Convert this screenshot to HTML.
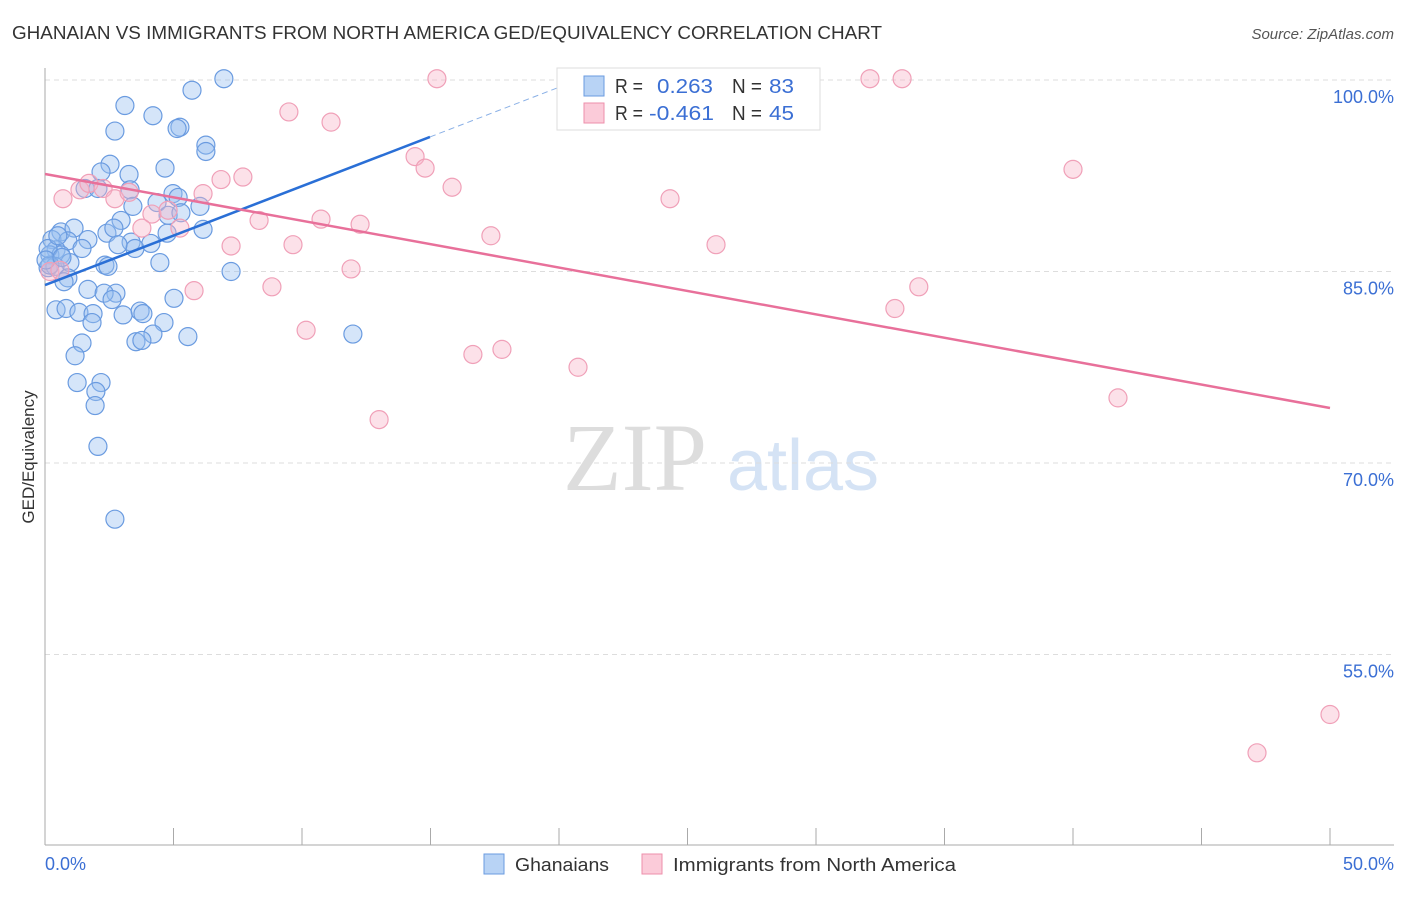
<!DOCTYPE html>
<html><head><meta charset="utf-8"><style>
body{margin:0;background:#fff;font-family:"Liberation Sans",sans-serif}
</style></head><body>
<svg width="1406" height="892" xmlns="http://www.w3.org/2000/svg" font-family="Liberation Sans, sans-serif">
<text x="12" y="39" font-size="18" fill="#333" textLength="870" lengthAdjust="spacingAndGlyphs">GHANAIAN VS IMMIGRANTS FROM NORTH AMERICA GED/EQUIVALENCY CORRELATION CHART</text>
<text x="1394" y="39" font-size="15" fill="#555" font-style="italic" text-anchor="end">Source: ZipAtlas.com</text>
<g><text x="635" y="490" font-size="96" fill="#ddd" font-family="Liberation Serif, serif" text-anchor="middle">ZIP</text><text x="803" y="490" font-size="72" fill="#d5e3f5" text-anchor="middle">atlas</text></g>
<g id="grid"></g><g id="axes"></g><g id="marks"></g>
<text transform="translate(34,457) rotate(-90)" font-size="17" fill="#333" text-anchor="middle">GED/Equivalency</text>
<text x="45" y="870" font-size="18" fill="#3b6fd4">0.0%</text>
<text x="1394" y="870" font-size="18" fill="#3b6fd4" text-anchor="end">50.0%</text>
<g>
<rect x="557" y="68" width="263" height="62" fill="#fff" stroke="#ddd"/>
<rect x="584" y="76" width="20" height="20" fill="#b8d3f5" stroke="#6a9be0"/>
<text x="615" y="93" font-size="20" fill="#333" textLength="28" lengthAdjust="spacingAndGlyphs">R =</text><text x="657" y="93" font-size="20" fill="#3b6fd4" textLength="56" lengthAdjust="spacingAndGlyphs">0.263</text>
<text x="732" y="93" font-size="20" fill="#333" textLength="30" lengthAdjust="spacingAndGlyphs">N =</text><text x="769" y="93" font-size="20" fill="#3b6fd4" textLength="25" lengthAdjust="spacingAndGlyphs">83</text>
<rect x="584" y="103" width="20" height="20" fill="#fbcbd9" stroke="#ee8fab"/>
<text x="615" y="120" font-size="20" fill="#333" textLength="28" lengthAdjust="spacingAndGlyphs">R =</text><text x="649" y="120" font-size="20" fill="#3b6fd4" textLength="65" lengthAdjust="spacingAndGlyphs">-0.461</text>
<text x="732" y="120" font-size="20" fill="#333" textLength="30" lengthAdjust="spacingAndGlyphs">N =</text><text x="769" y="120" font-size="20" fill="#3b6fd4" textLength="25" lengthAdjust="spacingAndGlyphs">45</text>
</g>
<g>
<rect x="484" y="854" width="20" height="20" fill="#b8d3f5" stroke="#6a9be0"/>
<text x="515" y="871" font-size="18" fill="#333" textLength="94" lengthAdjust="spacingAndGlyphs">Ghanaians</text>
<rect x="642" y="854" width="20" height="20" fill="#fbcbd9" stroke="#ee8fab"/>
<text x="673" y="871" font-size="18" fill="#333" textLength="283" lengthAdjust="spacingAndGlyphs">Immigrants from North America</text>
</g>
</svg>
<script>
const yTicks=[100,85,70,55];
const yTickLabels=["100.0%","85.0%","70.0%","55.0%"];
const xTicks=[0,5,10,15,20,25,30,35,40,45,50];
const blueX=[6.96,5.72,3.11,4.20,2.72,5.25,5.14,6.26,6.26,2.53,4.67,2.18,3.27,1.56,2.06,3.31,4.98,5.18,4.36,3.42,6.03,4.79,5.29,2.96,0.62,1.13,1.67,2.41,2.68,6.15,4.75,0.27,0.89,1.44,3.35,3.50,4.12,2.84,0.43,0.19,0.62,0.97,2.33,2.45,4.47,0.12,0.39,0.89,0.74,1.67,2.76,2.30,2.61,7.24,5.02,0.43,0.82,1.32,1.87,3.70,3.81,3.04,1.83,4.63,5.56,4.20,3.54,3.77,1.44,11.98,1.17,1.25,2.18,1.98,1.95,2.06,2.72,0.19,0.12,0.04,0.66,0.5];
const blueY=[100.1,99.2,98.0,97.2,96.0,96.3,96.2,94.9,94.4,93.4,93.1,92.8,92.6,91.5,91.5,91.4,91.1,90.8,90.4,90.1,90.1,89.4,89.6,89.0,88.1,88.4,87.5,88.0,88.4,88.3,88.0,87.5,87.4,86.8,87.3,86.8,87.2,87.1,86.7,86.3,86.3,85.7,85.5,85.4,85.7,85.3,85.4,84.5,84.2,83.6,83.3,83.3,82.8,85.0,82.9,82.0,82.1,81.8,81.7,81.9,81.7,81.6,81.0,81.0,79.9,80.1,79.5,79.6,79.4,80.1,78.4,76.3,76.3,75.6,74.5,71.3,65.6,85.5,86.8,85.9,86.1,87.8];
const pinkX=[15.25,32.1,33.35,9.49,11.13,14.40,14.79,15.84,40.0,24.32,6.85,7.70,0.70,1.36,1.71,2.26,2.72,3.27,6.15,4.16,4.79,5.25,3.77,8.33,10.74,12.26,17.35,7.24,9.65,26.11,11.91,8.83,5.80,34.0,33.07,10.16,16.65,17.78,20.74,13.0,41.75,50.0,47.16,0.19,0.58];
const pinkY=[100.1,100.1,100.1,97.5,96.7,94.0,93.1,91.6,93.0,90.7,92.2,92.4,90.7,91.4,91.9,91.5,90.7,91.2,91.1,89.5,89.8,88.4,88.4,89.0,89.1,88.7,87.8,87.0,87.1,87.1,85.2,83.8,83.5,83.8,82.1,80.4,78.5,78.9,77.5,73.4,75.1,50.3,47.3,85.0,85.1];
const blueTrend=[[0,83.94],[14.98,95.54]];
const blueTrendDash=[[14.98,95.54],[20.6,99.9]];
const pinkTrend=[[0,92.64],[50,74.31]];
const NS="http://www.w3.org/2000/svg";
const X=v=>45+v/50*1285, Y=v=>80+(100-v)/15*191.5;
function mk(t,a,p){const e=document.createElementNS(NS,t);for(const k in a)e.setAttribute(k,a[k]);document.getElementById(p).appendChild(e);return e;}
yTicks.forEach((t,i)=>{
 const l=mk('line',{x1:45,x2:1394,y1:Y(t),y2:Y(t),stroke:'#ddd','stroke-dasharray':'5,4'},'grid');
 
 
 const tx=mk('text',{x:1394,y:Y(t)+23,'font-size':18,fill:'#3b6fd4','text-anchor':'end'},'grid');
 tx.textContent=yTickLabels[i];
 
 
});
let a=mk('line',{x1:45,x2:45,y1:68,y2:845,stroke:'#aaa'},'axes');


a=mk('line',{x1:45,x2:1394,y1:845,y2:845,stroke:'#aaa'},'axes');


xTicks.forEach(t=>{
 const l=mk('line',{x1:X(t),x2:X(t),y1:828,y2:845,stroke:'#aaa'},'axes');
 
 
});
blueX.forEach((v,i)=>{
 const c=mk('circle',{cx:X(v),cy:Y(blueY[i]),r:9,fill:'rgba(150,190,240,0.4)',stroke:'#6a9be0','stroke-width':1.2},'marks');
 
 
});
pinkX.forEach((v,i)=>{
 const c=mk('circle',{cx:X(v),cy:Y(pinkY[i]),r:9,fill:'rgba(248,180,200,0.4)',stroke:'#f0a0b8','stroke-width':1.2},'marks');
 
 
});
let tl=mk('line',{x1:X(blueTrend[0][0]),y1:Y(blueTrend[0][1]),x2:X(blueTrend[1][0]),y2:Y(blueTrend[1][1]),stroke:'#2a6fd6','stroke-width':2.5},'marks');


tl=mk('line',{x1:X(blueTrendDash[0][0]),y1:Y(blueTrendDash[0][1]),x2:X(blueTrendDash[1][0]),y2:Y(blueTrendDash[1][1]),stroke:'#8ab0e6','stroke-width':1,'stroke-dasharray':'6,4'},'marks');


tl=mk('line',{x1:X(pinkTrend[0][0]),y1:Y(pinkTrend[0][1]),x2:X(pinkTrend[1][0]),y2:Y(pinkTrend[1][1]),stroke:'#e8709a','stroke-width':2.5},'marks');


</script>
</body></html>
